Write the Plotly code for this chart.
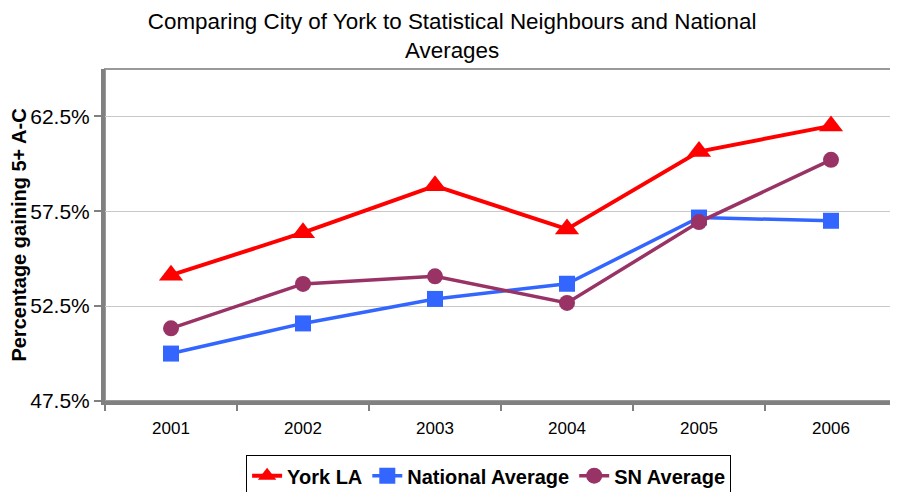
import plotly.graph_objects as go

# Данные
years = ["2001", "2002", "2003", "2004", "2005", "2006"]
york_la = [54.13, 56.37, 58.84, 56.56, 60.65, 62.0]
national_avg = [50.0, 51.59, 52.88, 53.68, 57.17, 57.0]
sn_avg = [51.33, 53.67, 54.07, 52.67, 56.93, 60.21]

y_ticks = [47.5, 52.5, 57.5, 62.5]
y_tick_labels = ["47.5%", "52.5%", "57.5%", "62.5%"]

fig = go.Figure()

series = [
    ("York LA", york_la, "#FF0000", "triangle-up", 21, 4),
    ("National Average", national_avg, "#3366FF", "square", 16, 3.5),
    ("SN Average", sn_avg, "#993366", "circle", 16, 3.5),
]
for name, vals, color, symbol, msize, lw in series:
    fig.add_trace(go.Scatter(
        x=years, y=vals, name=f"<b>{name}</b>",
        mode="lines+markers",
        line=dict(color=color, width=lw),
        marker=dict(symbol=symbol, size=msize, color=color),
    ))

# рамка области построения (верх и право тоньше осей)
fig.add_shape(type="rect", xref="paper", yref="paper", x0=0, y0=0, x1=1, y1=1,
              line=dict(color="#999999", width=2), layer="below")

# страница добавляет отступ 8px слева и сверху, поэтому фигура чуть меньше окна
fig.update_layout(
    width=890, height=484,
    margin=dict(l=97, r=1, t=61, b=91),
    paper_bgcolor="white", plot_bgcolor="white",
    font=dict(family="Liberation Sans, Arial, sans-serif", color="black"),
    title=dict(
        text="Comparing City of York to Statistical Neighbours and National<br>Averages",
        x=0.499, xref="container", xanchor="center",
        y=0.957, yref="container", yanchor="middle",
        font=dict(size=22.4, color="black"),
    ),
    xaxis=dict(
        type="category", automargin=False,
        tickson="boundaries", ticks="outside", ticklen=6, tickwidth=2, tickcolor="#808080",
        ticklabelstandoff=9,
        showline=True, linecolor="#808080", linewidth=4,
        showgrid=False,
        tickfont=dict(size=17),
        range=[-0.5, 5.5],
    ),
    yaxis=dict(
        range=[47.5, 65.0], automargin=False,
        tickvals=y_ticks, ticktext=y_tick_labels,
        ticks="outside", ticklen=7, tickwidth=2, tickcolor="#808080",
        showline=True, linecolor="#808080", linewidth=4,
        showgrid=True, gridcolor="#C8C8C8", gridwidth=1,
        zeroline=False,
        tickfont=dict(size=21),
        title=dict(text="<b>Percentage gaining 5+ A-C</b>", font=dict(size=20), standoff=4),
    ),
    legend=dict(
        orientation="h",
        xref="container", yref="container",
        x=0.54, xanchor="center",
        y=0.076, yanchor="top",
        bordercolor="black", borderwidth=1,
        font=dict(size=20),
        tracegroupgap=0,
    ),
    showlegend=True,
)

fig.write_html("out.html")
